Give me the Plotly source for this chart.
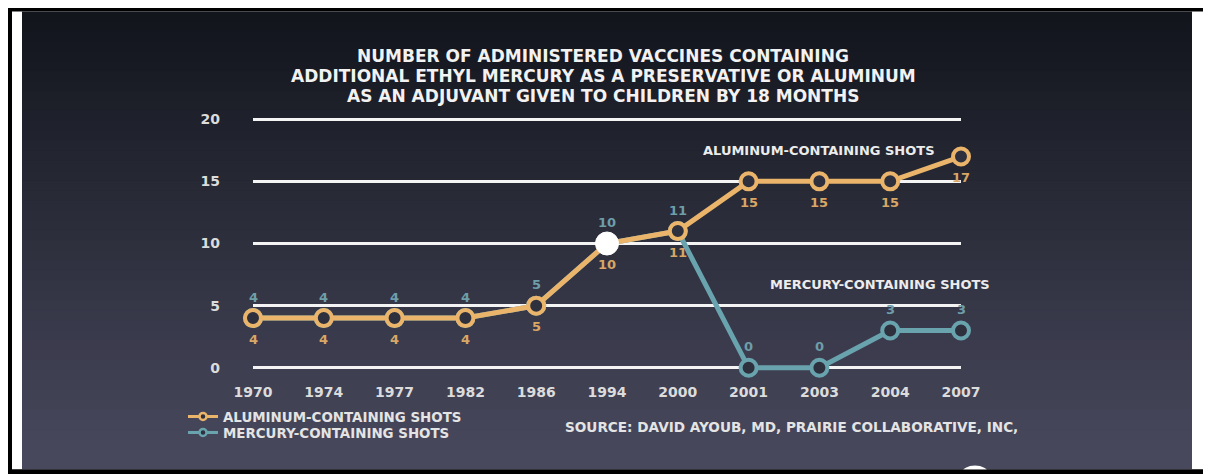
import plotly.graph_objects as go

# ---- data ----
years = ["1970", "1974", "1977", "1982", "1986", "1994", "2000", "2001", "2003", "2004", "2007"]
aluminum = [4, 4, 4, 4, 5, 10, 11, 15, 15, 15, 17]
mercury = [4, 4, 4, 4, 5, 10, 11, 0, 0, 3, 3]
y_ticks = [0, 5, 10, 15, 20]
y_range = [-0.5, 20.5]

title_lines = ["NUMBER OF ADMINISTERED VACCINES CONTAINING",
               "ADDITIONAL ETHYL MERCURY AS A PRESERVATIVE OR ALUMINUM",
               "AS AN ADJUVANT GIVEN TO CHILDREN BY 18 MONTHS"]
al_name = "ALUMINUM-CONTAINING SHOTS"
hg_name = "MERCURY-CONTAINING SHOTS"
source_text = "SOURCE: DAVID AYOUB, MD, PRAIRIE COLLABORATIVE, INC,"

# ---- geometry (window pixels; the page body has an 8px offset) ----
OFF = 8
WIN_W, WIN_H = 1211, 474
W, H = WIN_W - OFF, WIN_H - OFF
L, R = 253, 961                      # first / last category
Y0_PX, Y20_PX = 368, 119             # pixel rows of 0 and 20
ppu = (Y0_PX - Y20_PX) / 20.0
B = Y0_PX - (y_range[0]) * ppu
T = Y0_PX - (y_range[1]) * ppu

FONT = "DejaVu Sans"
ORANGE = "#eab46b"
ORANGE_TXT = "#d8a665"
TEAL = "#69a3ad"
TEAL_TXT = "#6d9eaa"
DOT = "#2e303e"


def px(x):
    return (x - L) / (R - L)


def py(y):
    return (B - y) / (B - T)


def hexrgb(h):
    h = h.lstrip("#")
    return tuple(int(h[i:i + 2], 16) for i in (0, 2, 4))


shapes = []
shapes.append(dict(type="rect", xref="paper", yref="paper", x0=px(4), x1=px(1215),
                   y0=py(473.5), y1=py(3), fillcolor="black", line=dict(width=0), layer="below"))
shapes.append(dict(type="rect", xref="paper", yref="paper", x0=px(12), x1=px(1208.5),
                   y0=py(470), y1=py(11), fillcolor="white", line=dict(width=0), layer="below"))
top_c, bot_c = hexrgb("#11141b"), hexrgb("#4a4a5f")
y_start, y_end, nb = 11, 470, 46
step = (y_end - y_start) / nb
for i in range(nb):
    t = (i + 0.5) / nb
    c = tuple(round(top_c[k] + (bot_c[k] - top_c[k]) * t) for k in range(3))
    shapes.append(dict(type="rect", xref="paper", yref="paper", x0=px(22), x1=px(1192),
                       y0=py(min(y_end, y_start + (i + 1) * step + 1)), y1=py(y_start + i * step),
                       fillcolor="rgb(%d,%d,%d)" % c, line=dict(width=0), layer="below"))
shapes.append(dict(type="circle", xref="paper", yref="paper", x0=px(962), x1=px(988),
                   y0=py(480), y1=py(466), fillcolor="white", line=dict(width=0), layer="below"))
shapes.append(dict(type="rect", xref="paper", yref="paper", x0=px(4), x1=px(1215),
                   y0=py(476), y1=py(470), fillcolor="black", line=dict(width=0), layer="below"))

fig = go.Figure()

fig.add_trace(go.Scatter(
    x=years, y=mercury, mode="lines+markers",
    line=dict(color=TEAL, width=5),
    marker=dict(size=16, color=DOT, line=dict(color=TEAL, width=4)),
    cliponaxis=False, showlegend=False, hoverinfo="skip"))

fig.add_trace(go.Scatter(
    x=years, y=aluminum, mode="lines+markers",
    line=dict(color=ORANGE, width=5),
    marker=dict(size=16, color=DOT, line=dict(color=ORANGE, width=4)),
    cliponaxis=False, showlegend=False, hoverinfo="skip"))

fig.add_trace(go.Scatter(
    x=[years[5]], y=[aluminum[5]], mode="markers",
    marker=dict(size=23, color="white", line=dict(color="white", width=1)),
    cliponaxis=False, showlegend=False, hoverinfo="skip"))

fig.add_trace(go.Scatter(
    x=[None], y=[None], mode="lines+markers", name=al_name, legend="legend",
    line=dict(color=ORANGE, width=3), marker=dict(size=7, color=DOT, line=dict(color=ORANGE, width=2.5))))
fig.add_trace(go.Scatter(
    x=[None], y=[None], mode="lines+markers", name=hg_name, legend="legend2",
    line=dict(color=TEAL, width=3), marker=dict(size=7, color=DOT, line=dict(color=TEAL, width=2.5))))

annotations = []
for i, line in enumerate(title_lines):
    annotations.append(dict(text=line, xref="paper", yref="paper", x=px(603), y=py(56 + i * 20),
                            xanchor="center", yanchor="middle", showarrow=False,
                            font=dict(family=FONT, size=17, color="#f2f2f2", weight="bold")))
# value labels (category axis -> annotations use category index)
for i, v in enumerate(mercury):
    annotations.append(dict(text=str(v), x=i, y=v, xref="x", yref="y", yshift=21, showarrow=False,
                            font=dict(family=FONT, size=13, color=TEAL_TXT, weight="bold")))
for i, v in enumerate(aluminum):
    annotations.append(dict(text=str(v), x=i, y=v, xref="x", yref="y", yshift=-21, showarrow=False,
                            font=dict(family=FONT, size=13, color=ORANGE_TXT, weight="bold")))
annotations += [
    dict(text=al_name, xref="paper", yref="paper", x=px(819), y=py(150),
         xanchor="center", yanchor="middle", showarrow=False,
         font=dict(family=FONT, size=13, color="#ececec", weight="bold")),
    dict(text=hg_name, xref="paper", yref="paper", x=px(880), y=py(285),
         xanchor="center", yanchor="middle", showarrow=False,
         font=dict(family=FONT, size=13, color="#ececec", weight="bold")),
    dict(text=source_text, xref="paper", yref="paper", x=px(563), y=py(427),
         xanchor="left", yanchor="middle", showarrow=False,
         font=dict(family=FONT, size=13.6, color="#e4e4e4", weight="bold")),
]

leg_font = dict(family=FONT, size=13.4, color="#e4e4e4", weight="bold")
fig.update_layout(
    width=W, height=H,
    margin=dict(l=L - OFF, r=WIN_W - R, t=T - OFF, b=WIN_H - B, pad=0),
    paper_bgcolor="white", plot_bgcolor="rgba(0,0,0,0)",
    font=dict(family=FONT, color="#e0e0e0", weight="bold"),
    shapes=shapes, annotations=annotations,
    legend=dict(x=px(183), y=py(417), xanchor="left", yanchor="middle",
                bgcolor="rgba(0,0,0,0)", font=leg_font, itemclick=False),
    legend2=dict(x=px(183), y=py(433), xanchor="left", yanchor="middle",
                 bgcolor="rgba(0,0,0,0)", font=leg_font, itemclick=False),
    xaxis=dict(type="category", range=[0, len(years) - 1], showgrid=False, zeroline=False,
               showline=False, ticks="", tickfont=dict(family=FONT, size=14, color="#dcdcdc", weight="bold"),
               ticklabelstandoff=8, fixedrange=True),
    yaxis=dict(range=y_range, tickvals=y_ticks, showgrid=True, gridcolor="#f4f4f4", gridwidth=3,
               zeroline=False, showline=False, ticks="",
               tickfont=dict(family=FONT, size=14, color="#dcdcdc", weight="bold"),
               ticklabelstandoff=32, fixedrange=True),
)

fig.write_html("out.html")
